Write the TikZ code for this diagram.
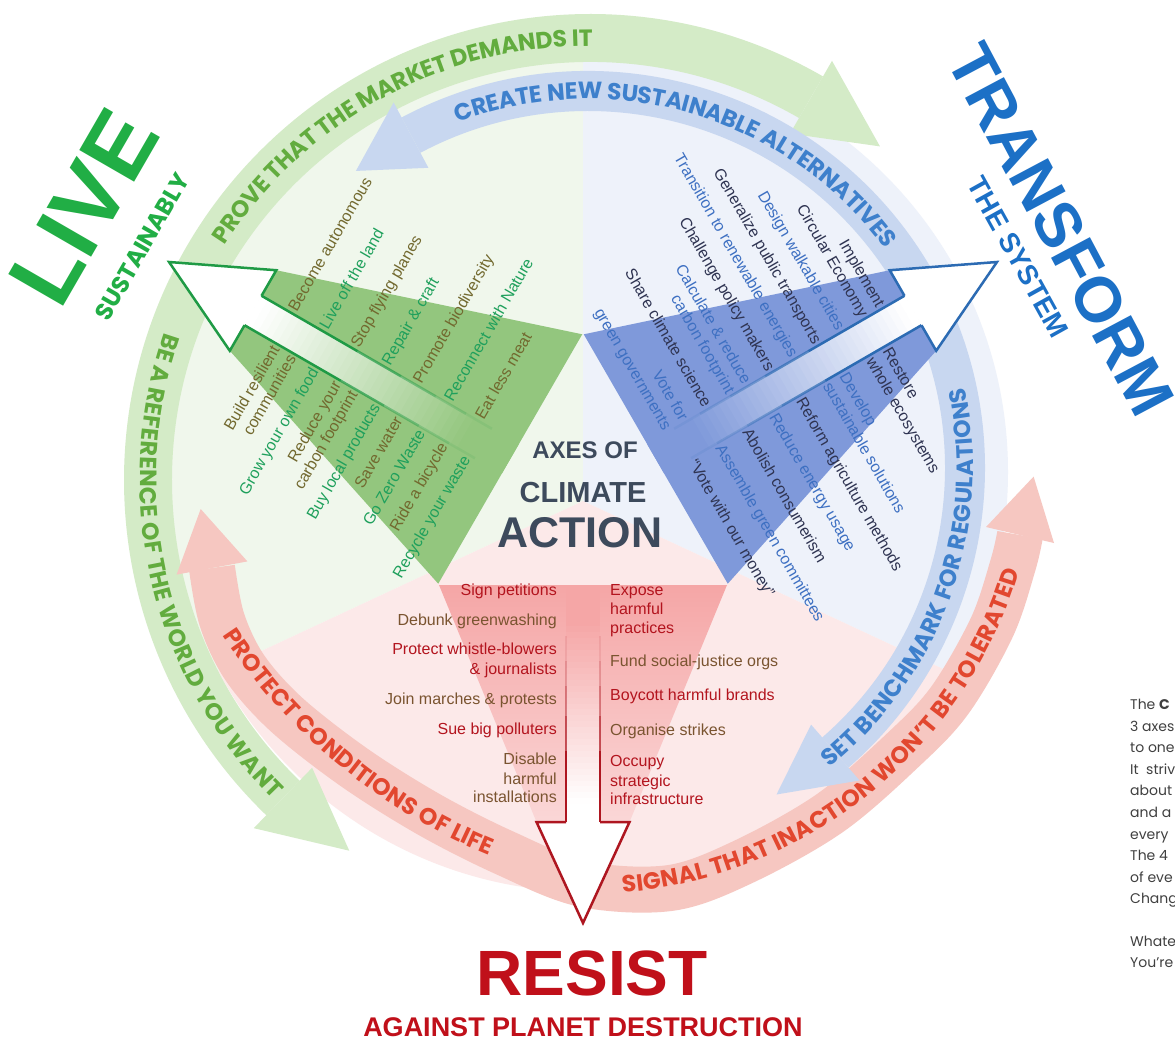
\documentclass[tikz,border=0pt]{standalone}
\usepackage{fontspec}
\setmainfont{Liberation Sans}
\newfontfamily\arcfont{Poppins}
\usetikzlibrary{calc,decorations.text}
\newcommand{\arcstyle}{\arcfont\bfseries\fontsize{23.5}{23.5}\selectfont}
\definecolor{gband}{HTML}{D4EBC7}
\definecolor{bband}{HTML}{C8D7F0}
\definecolor{rband}{HTML}{F6C7C1}
\definecolor{garc}{HTML}{62AC3E}
\definecolor{barc}{HTML}{3E80CC}
\definecolor{rarc}{HTML}{E2472F}
\definecolor{gfill}{HTML}{93C67E}
\definecolor{bfill}{HTML}{7F99DA}
\definecolor{rfill}{HTML}{F5A6A6}
\definecolor{gline}{HTML}{1F9A45}
\definecolor{bline}{HTML}{2C6BB3}
\definecolor{rline}{HTML}{AE1620}
\definecolor{golive}{HTML}{72692F}
\definecolor{gteal}{HTML}{1FA05C}
\definecolor{bdark}{HTML}{2F3452}
\definecolor{bblue}{HTML}{3E70C2}
\definecolor{rred}{HTML}{B3141E}
\definecolor{rbrown}{HTML}{7A5430}
\definecolor{pgreen}{HTML}{F0F7EC}
\definecolor{pblue}{HTML}{EEF2FA}
\definecolor{ppink}{HTML}{FCE9E9}
\definecolor{axescol}{HTML}{3D4A5C}
\definecolor{livegreen}{HTML}{21AE45}
\definecolor{tblue}{HTML}{1C70C6}
\definecolor{resred}{HTML}{C0101A}
\definecolor{desccol}{HTML}{404040}
\begin{document}
\begin{tikzpicture}[x=1pt,y=1pt,
  gtxt/.style={font=\fontsize{16}{16}\selectfont, inner sep=0pt, rotate=60},
  btxt/.style={font=\fontsize{16}{16}\selectfont, inner sep=0pt, rotate=-60},
  rtxt/.style={font=\fontsize{16}{16}\selectfont, inner sep=0pt},
  dtxt/.style={font=\arcfont\fontsize{14}{14}\selectfont, text=desccol, inner sep=0pt, anchor=mid west},
  outl/.style={line width=2.5pt, line join=miter, line cap=butt}]
\useasboundingbox (0,0) rectangle (1175,-1039);
\fill[white] (0,0) rectangle (1175,-1039);

% pale disc sectors
\begin{scope}
\clip (588,-472) circle[radius=420];
\fill[pgreen] (583,-501) -- ++(90:1000) arc[start angle=90,end angle=205,radius=1000] -- cycle;
\fill[pblue] (583,-501) -- ++(-25:1000) arc[start angle=-25,end angle=90,radius=1000] -- cycle;
\fill[ppink] (583,-501) -- ++(205:1000) arc[start angle=205,end angle=335,radius=1000] -- cycle;
\end{scope}

% green band
\begin{scope}[shift={(590,-480)}]
\fill[gband] (226:466) arc[start angle=226,end angle=60,radius=466] -- (60:418) arc[start angle=60,end angle=226,radius=418] -- cycle;
\fill[gband] (226:400) -- (237:442) -- (226:484) -- cycle;
\fill[gband] (60:400) -- (49:442) -- (60:484) -- cycle;
\path[decorate, decoration={text along path, text align=center, raise=-8pt,
  text={|\arcstyle\color{garc}|PROVE THAT THE MARKET DEMANDS IT}}]
  (170:442) arc[start angle=170,end angle=67,radius=442];
\path[decorate, decoration={text along path, text align=center, raise=-8pt,
  text={|\arcstyle\color{garc}|BE A REFERENCE OF THE WORLD YOU WANT}}]
  (133:442) arc[start angle=133,end angle=253,radius=442];
\end{scope}

% red band
\draw[rband, line width=46pt] plot[smooth, tension=0.55] coordinates {(212,-568) (222,-620) (245,-668) (287,-715) (355,-768) (430,-815) (505,-853) (583,-884) (670,-888) (743,-862) (830,-813) (903,-750) (950,-700) (992,-627) (1013,-565) (1020,-535)};
\fill[rband] (176.6,-574.6) -- (200.7,-509) -- (247.4,-561.4) -- cycle;
\fill[rband] (986,-527) -- (1033.6,-476.6) -- (1054,-543) -- cycle;
\begin{scope}[shift={(711.3,-314)}]
\path[decorate, decoration={text along path, text align=center, raise=-8pt,
  text={|\arcstyle\color{rarc}|PROTECT CONDITIONS OF LIFE}}]
  (208:577) arc[start angle=208,end angle=253,radius=577];
\end{scope}
\begin{scope}[shift={(585.5,-441.6)}]
\path[decorate, decoration={text along path, text align=center, raise=-8pt,
  text={|\arcstyle\color{rarc}|SIGNAL THAT INACTION WON’T BE TOLERATED}}]
  (-93:444.6) arc[start angle=-93,end angle=-9,radius=444.6];
\end{scope}

% blue band
\begin{scope}[shift={(588,-468)}]
\fill[bband] (118:397) arc[start angle=118,end angle=-49,radius=397] -- (-49:357) arc[start angle=-49,end angle=118,radius=357] -- cycle;
\fill[bband] (118:340) -- (128:377) -- (118:414) -- cycle;
\fill[bband] (-49:340) -- (-60:377) -- (-49:414) -- cycle;
\path[decorate, decoration={text along path, text align=center, raise=-8pt,
  text={|\arcstyle\color{barc}|CREATE NEW SUSTAINABLE ALTERNATIVES}}]
  (125:377) arc[start angle=125,end angle=22,radius=377];
\path[decorate, decoration={text along path, text align=center, raise=-8pt,
  text={|\arcstyle\color{barc}|SET BENCHMARK FOR REGULATIONS}}]
  (-61:377) arc[start angle=-61,end angle=22,radius=377];
\end{scope}

% ===== GREEN AXIS =====
\begin{scope}[shift={(583,-501)}, rotate=150]
\fill[gfill] (84,-144) -- (84,144) -- (381,46.5) -- (381,-46.5) -- cycle;
\foreach \i in {0,...,39}{
  \pgfmathsetmacro{\ua}{84+\i*7.425}
  \pgfmathsetmacro{\ub}{\ua+8}
  \pgfmathsetmacro{\pc}{max(0,min(100,(\ua-130)/(370-130)*100))}
  \fill[white!\pc!gfill] (\ua,-17) rectangle (\ub,17);
}
\fill[white] (381,-46.5) -- (478,0) -- (381,46.5) -- cycle;
\draw[gline, outl] (381,-17) -- (381,-46.5) -- (478,0) -- (381,46.5) -- (381,17);
\foreach \a/\b/\o in {381/270/1, 270/220/0.7, 220/180/0.45, 180/145/0.25, 145/115/0.1}
  \draw[gline, line width=2.5pt, opacity=\o] (\a,-17) -- (\b,-17) (\a,17) -- (\b,17);
\node[gtxt, anchor=base west, text=golive] (g1) at (342,-20) {Become autonomous};
\node[gtxt, anchor=base west, text=gteal] (g2) at (306,-20) {Live off the land};
\node[gtxt, anchor=base west, text=golive] (g3) at (270,-20) {Stop flying planes};
\node[gtxt, anchor=base west, text=gteal] (g4) at (234,-20) {Repair \& craft};
\node[gtxt, anchor=base west, text=golive] (g5) at (198,-20) {Promote biodiversity};
\node[gtxt, anchor=base west, text=gteal] (g6) at (162,-20) {Reconnect with Nature};
\node[gtxt, anchor=base west, text=golive] (g7) at (126,-20) {Eat less meat};
\node[gtxt, anchor=base east, text=golive] (g8) at (338,20) {Build resilient};
\node[gtxt, anchor=base east, text=golive] (g9) at (319,20) {communities};
\node[gtxt, anchor=base east, text=gteal] (g10) at (293,20) {Grow your own food};
\node[gtxt, anchor=base east, text=golive] (g11) at (267,20) {Reduce your};
\node[gtxt, anchor=base east, text=golive] (g12) at (248,20) {carbon footprint};
\node[gtxt, anchor=base east, text=gteal] (g13) at (222,20) {Buy local products};
\node[gtxt, anchor=base east, text=golive] (g14) at (196,20) {Save water};
\node[gtxt, anchor=base east, text=gteal] (g15) at (170,20) {Go Zero Waste};
\node[gtxt, anchor=base east, text=golive] (g16) at (144,20) {Ride a bicycle};
\node[gtxt, anchor=base east, text=gteal] (g17) at (118,20) {Recycle your waste};
\end{scope}

% ===== BLUE AXIS =====
\begin{scope}[shift={(583,-501)}, rotate=30]
\fill[bfill] (84,-144) -- (84,144) -- (381,46.5) -- (381,-46.5) -- cycle;
\foreach \i in {0,...,39}{
  \pgfmathsetmacro{\ua}{84+\i*7.425}
  \pgfmathsetmacro{\ub}{\ua+8}
  \pgfmathsetmacro{\pc}{max(0,min(100,(\ua-130)/(370-130)*100))}
  \fill[white!\pc!bfill] (\ua,-17) rectangle (\ub,17);
}
\fill[white] (381,-46.5) -- (478,0) -- (381,46.5) -- cycle;
\draw[bline, outl] (381,-17) -- (381,-46.5) -- (478,0) -- (381,46.5) -- (381,17);
\foreach \a/\b/\o in {381/270/1, 270/220/0.7, 220/180/0.45, 180/145/0.25, 145/115/0.1}
  \draw[bline, line width=2.5pt, opacity=\o] (\a,-17) -- (\b,-17) (\a,17) -- (\b,17);
\node[btxt, anchor=base east, text=bdark] (b1) at (350,20) {Implement};
\node[btxt, anchor=base east, text=bdark] (b2) at (331,20) {Circular Economy};
\node[btxt, anchor=base east, text=bblue] (b3) at (304,20) {Design walkable cities};
\node[btxt, anchor=base east, text=bdark] (b4) at (277,20) {Generalize public transports};
\node[btxt, anchor=base east, text=bblue] (b5) at (250,20) {Transition to renewable energies};
\node[btxt, anchor=base east, text=bdark] (b6) at (223,20) {Challenge policy makers};
\node[btxt, anchor=base east, text=bblue] (b7) at (196,20) {Calculate \& reduce};
\node[btxt, anchor=base east, text=bblue] (b8) at (177,20) {carbon footprint};
\node[btxt, anchor=base east, text=bdark] (b9) at (150,20) {Share climate science};
\node[btxt, anchor=base east, text=bblue] (b10) at (123,20) {Vote for};
\node[btxt, anchor=base east, text=bblue] (b11) at (104,20) {green governments};
\node[btxt, anchor=base west, text=bdark] (b12) at (334,-20) {Restore};
\node[btxt, anchor=base west, text=bdark] (b13) at (315,-20) {whole ecosystems};
\node[btxt, anchor=base west, text=bblue] (b14) at (284,-20) {Develop};
\node[btxt, anchor=base west, text=bblue] (b15) at (265,-20) {sustainable solutions};
\node[btxt, anchor=base west, text=bdark] (b16) at (234,-20) {Reform agriculture methods};
\node[btxt, anchor=base west, text=bblue] (b17) at (203,-20) {Reduce energy usage};
\node[btxt, anchor=base west, text=bdark] (b18) at (172,-20) {Abolish consumerism};
\node[btxt, anchor=base west, text=bblue] (b19) at (141,-20) {Assemble green committees};
\node[btxt, anchor=base west, text=bdark] (b20) at (110,-20) {“Vote with our money”};
\end{scope}

% ===== RED AXIS =====
\begin{scope}[shift={(583,-501)}, rotate=-90]
\shade[top color=rfill!45!white, bottom color=rfill, shading angle=-180] (84,-144) -- (84,144) -- (321,46.5) -- (321,-46.5) -- cycle;
\foreach \i in {0,...,39}{
  \pgfmathsetmacro{\ua}{84+\i*5.925}
  \pgfmathsetmacro{\ub}{\ua+6.5}
  \pgfmathsetmacro{\pc}{max(0,min(100,(\ua-120)/(300-120)*100))}
  \fill[white!\pc!rfill] (\ua,-17) rectangle (\ub,17);
}
\fill[white] (321,-46.5) -- (422,0) -- (321,46.5) -- cycle;
\draw[rline, outl] (321,-17) -- (321,-46.5) -- (422,0) -- (321,46.5) -- (321,17);
\foreach \a/\b/\o in {321/250/1, 250/215/0.7, 215/185/0.45, 185/160/0.25, 160/135/0.1}
  \draw[rline, line width=2.5pt, opacity=\o] (\a,-17) -- (\b,-17) (\a,17) -- (\b,17);
\end{scope}
\node[rtxt, anchor=mid east, text=rred] (r1) at (557,-593) {Sign petitions};
\node[rtxt, anchor=mid east, text=rbrown] (r2) at (557,-623) {Debunk greenwashing};
\node[rtxt, anchor=mid east, text=rred] (r3) at (557,-652) {Protect whistle-blowers};
\node[rtxt, anchor=mid east, text=rred] (r4) at (557,-672) {\& journalists};
\node[rtxt, anchor=mid east, text=rbrown] (r5) at (557,-702) {Join marches \& protests};
\node[rtxt, anchor=mid east, text=rred] (r6) at (557,-732) {Sue big polluters};
\node[rtxt, anchor=mid east, text=rbrown] (r7) at (557,-762) {Disable};
\node[rtxt, anchor=mid east, text=rbrown] (r8) at (557,-782) {harmful};
\node[rtxt, anchor=mid east, text=rbrown] (r9) at (557,-800) {installations};
\node[rtxt, anchor=mid west, text=rred] (r10) at (610,-593) {Expose};
\node[rtxt, anchor=mid west, text=rred] (r11) at (610,-612) {harmful};
\node[rtxt, anchor=mid west, text=rred] (r12) at (610,-631) {practices};
\node[rtxt, anchor=mid west, text=rbrown] (r13) at (610,-664) {Fund social-justice orgs};
\node[rtxt, anchor=mid west, text=rred] (r14) at (610,-698) {Boycott harmful brands};
\node[rtxt, anchor=mid west, text=rbrown] (r15) at (610,-733) {Organise strikes};
\node[rtxt, anchor=mid west, text=rred] (r16) at (610,-764) {Occupy};
\node[rtxt, anchor=mid west, text=rred] (r17) at (610,-784) {strategic};
\node[rtxt, anchor=mid west, text=rred] (r18) at (610,-802) {infrastructure};

% centre
\node[font=\bfseries\fontsize{24}{24}\selectfont, text=axescol, inner sep=0pt] (ax1) at (585,-450.5) {AXES OF};
\node[font=\bfseries\fontsize{29}{29}\selectfont, text=axescol, inner sep=0pt] (ax2) at (583,-492.5) {CLIMATE};
\node[font=\bfseries\fontsize{43}{43}\selectfont, text=axescol, inner sep=0pt] (ax3) at (580,-533) {ACTION};

% titles
\node[rotate=60, font=\bfseries\fontsize{92}{92}\selectfont, text=livegreen, inner sep=0pt] (live) at (84,-207) {LIVE};
\node[rotate=60, font=\arcfont\bfseries\fontsize{24}{24}\selectfont, text=livegreen, inner sep=0pt] (sust) at (142,-247) {SUSTAINABLY};
\node[rotate=-62, font=\bfseries\fontsize{64}{64}\selectfont, text=tblue, inner sep=0pt] (transf) at (1061,-230) {TRANSFORM};
\node[rotate=-61, font=\bfseries\fontsize{28}{28}\selectfont, text=tblue, inner sep=0pt] (thesys) at (1018,-257) {THE SYSTEM};
\node[font=\bfseries\fontsize{64}{64}\selectfont, text=resred, inner sep=0pt] (resist) at (592,-973) {RESIST};
\node[font=\bfseries\fontsize{27}{27}\selectfont, text=resred, inner sep=0pt] (against) at (583,-1027) {AGAINST PLANET DESTRUCTION};

% description (cut at right edge)
\node[dtxt] (d1) at (1130,-707) {The \textbf{C}};
\node[dtxt] (d2) at (1130,-729) {3 axes};
\node[dtxt] (d3) at (1130,-750) {to one};
\node[dtxt] (d4) at (1130,-772) {It\ \ striv};
\node[dtxt] (d5) at (1130,-793) {about};
\node[dtxt] (d6) at (1130,-815) {and a};
\node[dtxt] (d7) at (1130,-837) {every};
\node[dtxt] (d8) at (1130,-858) {The 4};
\node[dtxt] (d9) at (1130,-880) {of eve};
\node[dtxt] (d10) at (1130,-901) {Chang};
\node[dtxt] (d11) at (1130,-944) {Whate};
\node[dtxt] (d12) at (1130,-965) {You’re};
\end{tikzpicture}
\end{document}
